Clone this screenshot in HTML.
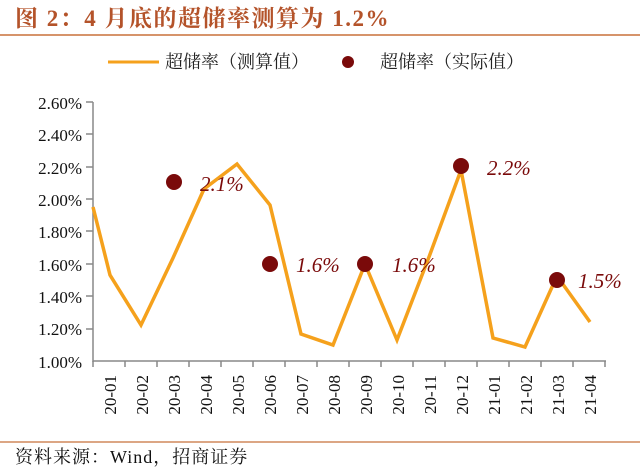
<!DOCTYPE html>
<html><head><meta charset="utf-8"><style>
body{margin:0;background:#fff;width:640px;height:467px;overflow:hidden}
</style></head><body>
<svg width="640" height="467" xmlns="http://www.w3.org/2000/svg">
<text x="15" y="26" font-family="Liberation Serif, Noto Serif CJK SC, serif" font-weight="bold" font-size="23" letter-spacing="1.5" fill="#b4532a">图 2：4 月底的超储率测算为 1.2%</text>
<line x1="0" y1="35" x2="640" y2="35" stroke="#c8703a" stroke-width="1.5"/>
<line x1="108" y1="62" x2="159" y2="62" stroke="#f5a11c" stroke-width="3"/>
<text x="165" y="68" font-family="Liberation Serif, Noto Serif CJK SC, serif" font-size="18" fill="#222">超储率（测算值）</text>
<circle cx="348" cy="62" r="6" fill="#7a0a0a"/>
<text x="380" y="68" font-family="Liberation Serif, Noto Serif CJK SC, serif" font-size="18" fill="#222">超储率（实际值）</text>
<g font-family="Liberation Serif, serif" font-size="17" fill="#111" text-anchor="end">
<text x="82" y="109">2.60%</text><text x="82" y="141">2.40%</text><text x="82" y="174">2.20%</text><text x="82" y="206">2.00%</text><text x="82" y="238">1.80%</text><text x="82" y="271">1.60%</text><text x="82" y="303">1.40%</text><text x="82" y="335">1.20%</text><text x="82" y="368">1.00%</text>
</g>
<g stroke="#888" stroke-width="1.5">
<line x1="93" y1="102" x2="93" y2="362"/>
<line x1="93" y1="361" x2="606" y2="361"/>
<line x1="86" y1="102" x2="93" y2="102"/><line x1="86" y1="134" x2="93" y2="134"/><line x1="86" y1="167" x2="93" y2="167"/><line x1="86" y1="199" x2="93" y2="199"/><line x1="86" y1="231" x2="93" y2="231"/><line x1="86" y1="264" x2="93" y2="264"/><line x1="86" y1="296" x2="93" y2="296"/><line x1="86" y1="329" x2="93" y2="329"/>
<path d="M93 361v6M125 361v6M157 361v6M189 361v6M221 361v6M253 361v6M285 361v6M317 361v6M349 361v6M381 361v6M413 361v6M445 361v6M477 361v6M509 361v6M541 361v6M573 361v6M605 361v6"/>
</g>
<g font-family="Liberation Serif, serif" font-size="17" fill="#111" text-anchor="end">
<text transform="translate(116,375) rotate(-90)">20-01</text>
<text transform="translate(148,375) rotate(-90)">20-02</text>
<text transform="translate(180,375) rotate(-90)">20-03</text>
<text transform="translate(212,375) rotate(-90)">20-04</text>
<text transform="translate(244,375) rotate(-90)">20-05</text>
<text transform="translate(276,375) rotate(-90)">20-06</text>
<text transform="translate(308,375) rotate(-90)">20-07</text>
<text transform="translate(340,375) rotate(-90)">20-08</text>
<text transform="translate(372,375) rotate(-90)">20-09</text>
<text transform="translate(404,375) rotate(-90)">20-10</text>
<text transform="translate(436,375) rotate(-90)">20-11</text>
<text transform="translate(468,375) rotate(-90)">20-12</text>
<text transform="translate(500,375) rotate(-90)">21-01</text>
<text transform="translate(532,375) rotate(-90)">21-02</text>
<text transform="translate(564,375) rotate(-90)">21-03</text>
<text transform="translate(596,375) rotate(-90)">21-04</text>
</g>
<polyline fill="none" stroke="#f5a11c" stroke-width="3.5" stroke-linejoin="miter" points="93,207 110,275 141,325 173,258 204,189 237,164 270,205 301,334 333,345 365,264 397,340 429,257 461,170 493,338 525,347 557,276 590,322"/>
<g fill="#7a0a0a">
<circle cx="174" cy="182" r="8"/><circle cx="270" cy="264" r="8"/><circle cx="365" cy="264" r="8"/><circle cx="461" cy="166" r="8"/><circle cx="557" cy="280" r="8"/>
</g>
<g font-family="Liberation Serif, serif" font-style="italic" font-size="21" fill="#7a0a0a">
<text x="200" y="191">2.1%</text><text x="296" y="272">1.6%</text><text x="392" y="272">1.6%</text><text x="487" y="175">2.2%</text><text x="578" y="288">1.5%</text>
</g>
<line x1="0" y1="442" x2="640" y2="442" stroke="#c8703a" stroke-width="1.2"/>
<text x="15" y="463" font-family="Liberation Serif, Noto Serif CJK SC, serif" font-size="18" letter-spacing="1" fill="#111">资料来源：Wind，招商证券</text>
</svg>
</body></html>
